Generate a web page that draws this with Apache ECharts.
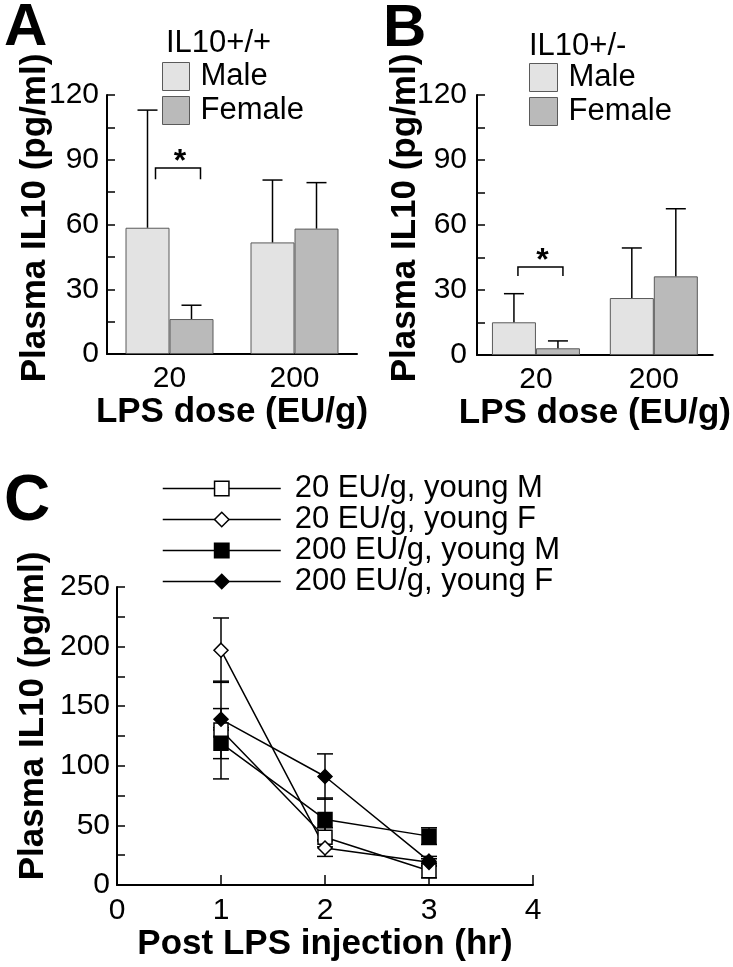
<!DOCTYPE html>
<html>
<head>
<meta charset="utf-8">
<script src="https://cdn.jsdelivr.net/npm/echarts@6/dist/echarts.min.js"></script>
<style>
  html, body { margin: 0; padding: 0; background: #fff; }
  #chart { width: 733px; height: 967px; }
</style>
</head>
<body>
<div id="chart"></div>
<script>
// panel A / B: LPS dose groups
var doses = ['20', '200'];
var wtMale = [58.5, 51.7];
var wtMaleErr = [54.5, 28.9];
var wtFemale = [16.2, 58.1];
var wtFemaleErr = [6.4, 21.3];
var hetMale = [15.1, 26.3];
var hetMaleErr = [13.2, 23.1];
var hetFemale = [3.1, 36.3];
var hetFemaleErr = [3.4, 31.2];

// panel C: time course
var hours = [1, 2, 3];
var m20 = [130, 40, 12];
var m20Err = [41, 8, 6];
var f20 = [197, 31, 19];
var f20Err = [27, 7, 3];
var m200 = [119, 55, 41];
var m200Err = [13, 18, 7];
var f200 = [139, 91, 20];
var f200Err = [9, 19, 4];

var FONT = '"Liberation Sans", Arial, sans-serif';
var maleColor = '#e3e3e3';
var femaleColor = '#bababa';
var barBorder = '#5a5a5a';

function upperErr(vals, errs) {
  return vals.map(function (v, i) { return [i, v, v + errs[i]]; });
}
function bothErr(vals, errs) {
  return vals.map(function (v, i) { return [hours[i], v - errs[i], v + errs[i]]; });
}

function barErrRender(offset) {
  return function (params, api) {
    var base = api.coord([api.value(0), api.value(1)]);
    var top = api.coord([api.value(0), api.value(2)]);
    var x = base[0] + offset;
    var st = { stroke: '#000', lineWidth: 1.5 };
    return {
      type: 'group',
      children: [
        { type: 'line', shape: { x1: x, y1: base[1], x2: x, y2: top[1] }, style: st },
        { type: 'line', shape: { x1: x - 10, y1: top[1], x2: x + 10, y2: top[1] }, style: st }
      ]
    };
  };
}

function lineErrRender(params, api) {
  var lo = api.coord([api.value(0), api.value(1)]);
  var hi = api.coord([api.value(0), api.value(2)]);
  var x = lo[0];
  var st = { stroke: '#000', lineWidth: 1.5 };
  return {
    type: 'group',
    children: [
      { type: 'line', shape: { x1: x, y1: lo[1], x2: x, y2: hi[1] }, style: st },
      { type: 'line', shape: { x1: x - 8, y1: hi[1], x2: x + 8, y2: hi[1] }, style: st },
      { type: 'line', shape: { x1: x - 8, y1: lo[1], x2: x + 8, y2: lo[1] }, style: st }
    ]
  };
}

function bracketRender(left, right) {
  return function (params, api) {
    var top = api.coord([api.value(0), api.value(2)]);
    var leg = api.coord([api.value(0), api.value(1)]);
    var x1 = top[0] + left, x2 = top[0] + right;
    return {
      type: 'group',
      children: [
        { type: 'polyline', shape: { points: [[x1, leg[1]], [x1, top[1]], [x2, top[1]], [x2, leg[1]]] },
          style: { stroke: '#000', lineWidth: 1.5, fill: null } },
        { type: 'text', x: (x1 + x2) / 2 + 2, y: top[1] - 6,
          style: { text: '*', font: 'bold 32px ' + FONT, fill: '#000', align: 'center', verticalAlign: 'middle' } }
      ]
    };
  };
}

function catAxis(grid) {
  return {
    type: 'category', gridIndex: grid, data: doses,
    axisLine: { lineStyle: { color: '#000', width: 2 } },
    axisTick: { show: false },
    axisLabel: { color: '#000', fontSize: 30, margin: 10, fontFamily: FONT },
    name: 'LPS dose (EU/g)', nameLocation: 'middle', nameGap: 40,
    nameTextStyle: { color: '#000', fontSize: 35, fontWeight: 'bold', fontFamily: FONT }
  };
}
function valAxis(grid, max, interval, margin) {
  return {
    type: 'value', gridIndex: grid, min: 0, max: max, interval: interval,
    splitLine: { show: false },
    axisLine: { show: true, lineStyle: { color: '#000', width: 2 } },
    axisTick: { show: true, inside: true, length: 8, lineStyle: { color: '#000', width: 1.5 } },
    minorTick: { show: true, splitNumber: 2, length: 8, lineStyle: { color: '#000', width: 1.5 } },
    axisLabel: { color: '#000', fontSize: 30, margin: margin, fontFamily: FONT }
  };
}

function barSeries(name, axis, vals, color) {
  return {
    name: name, type: 'bar', xAxisIndex: axis, yAxisIndex: axis, data: vals,
    barWidth: 44, barGap: '0%',
    itemStyle: { color: color, borderColor: barBorder, borderWidth: 1 }
  };
}
function errSeries(axis, data, offset) {
  return {
    type: 'custom', xAxisIndex: axis, yAxisIndex: axis, data: data,
    encode: { x: 0, y: [1, 2] }, renderItem: barErrRender(offset), z: 3
  };
}
function lineSeries(name, vals, symbol, fill) {
  return {
    name: name, type: 'line', xAxisIndex: 2, yAxisIndex: 2,
    data: vals.map(function (v, i) { return [hours[i], v]; }),
    symbol: symbol, symbolSize: 14,
    lineStyle: { color: '#000', width: 1.5 },
    itemStyle: { color: fill, borderColor: '#000', borderWidth: 1.5 },
    z: 4
  };
}

var chart = echarts.init(document.getElementById('chart'));
var option = {
  animation: false,
  backgroundColor: '#fff',
  textStyle: { fontFamily: FONT, color: '#000' },
  grid: [
    { left: 107, top: 95, width: 250, height: 259 },
    { left: 477, top: 95, width: 250, height: 260 },
    { left: 117, top: 587, width: 416, height: 298 }
  ],
  xAxis: [
    catAxis(0),
    catAxis(1),
    {
      type: 'value', gridIndex: 2, min: 0, max: 4, interval: 1,
      splitLine: { show: false },
      axisLine: { lineStyle: { color: '#000', width: 2 } },
      axisTick: { inside: true, length: 10, lineStyle: { color: '#000', width: 1.5 } },
      axisLabel: { color: '#000', fontSize: 30, margin: 11, fontFamily: FONT },
      name: 'Post LPS injection (hr)', nameLocation: 'middle', nameGap: 42,
      nameTextStyle: { color: '#000', fontSize: 35, fontWeight: 'bold', fontFamily: FONT }
    }
  ],
  yAxis: [
    valAxis(0, 120, 30, 8),
    valAxis(1, 120, 30, 10),
    valAxis(2, 250, 50, 7)
  ],
  legend: [
    {
      data: ['Male', 'Female'], orient: 'vertical', left: 162, top: 61, padding: 0,
      icon: 'rect', itemWidth: 27, itemHeight: 28, itemGap: 3, selectedMode: false,
      itemStyle: { borderColor: barBorder, borderWidth: 1 },
      textStyle: { fontSize: 31, color: '#000', padding: [0, 0, 0, 6], fontFamily: FONT }
    },
    {
      data: ['Male', 'Female'], orient: 'vertical', left: 529, top: 62, padding: 0,
      icon: 'rect', itemWidth: 28, itemHeight: 28, itemGap: 3, selectedMode: false,
      itemStyle: { borderColor: barBorder, borderWidth: 1 },
      textStyle: { fontSize: 31, color: '#000', padding: [0, 0, 0, 6], fontFamily: FONT }
    },
    {
      data: ['20 EU/g, young M', '20 EU/g, young F', '200 EU/g, young M', '200 EU/g, young F'],
      orient: 'vertical', left: 162, top: 473, padding: 0,
      itemWidth: 118, itemHeight: 18, itemGap: 0, selectedMode: false,
      itemStyle: { borderColor: '#000', borderWidth: 1.5 },
      lineStyle: { color: '#000', width: 1.5 },
      textStyle: { fontSize: 31, lineHeight: 31, color: '#000', padding: [0, 0, 0, 9], fontFamily: FONT }
    }
  ],
  graphic: [
    { type: 'text', x: 4, y: 28, style: { text: 'A', font: 'bold 60px ' + FONT, fill: '#000', verticalAlign: 'middle' } },
    { type: 'text', x: 383, y: 29, style: { text: 'B', font: 'bold 60px ' + FONT, fill: '#000', verticalAlign: 'middle' } },
    { type: 'text', x: 4, y: 502, style: { text: 'C', font: 'bold 64px ' + FONT, fill: '#000', verticalAlign: 'middle' } },
    { type: 'text', x: 166, y: 43, style: { text: 'IL10+/+', font: '31px ' + FONT, fill: '#000', verticalAlign: 'middle' } },
    { type: 'text', x: 529, y: 46, style: { text: 'IL10+/-', font: '31px ' + FONT, fill: '#000', verticalAlign: 'middle' } },
    { type: 'text', x: 35, y: 218, rotation: Math.PI / 2,
      style: { text: 'Plasma IL10 (pg/ml)', font: 'bold 35px ' + FONT, fill: '#000', align: 'center', verticalAlign: 'middle' } },
    { type: 'text', x: 405, y: 218, rotation: Math.PI / 2,
      style: { text: 'Plasma IL10 (pg/ml)', font: 'bold 35px ' + FONT, fill: '#000', align: 'center', verticalAlign: 'middle' } },
    { type: 'text', x: 33, y: 716, rotation: Math.PI / 2,
      style: { text: 'Plasma IL10 (pg/ml)', font: 'bold 35px ' + FONT, fill: '#000', align: 'center', verticalAlign: 'middle' } }
  ],
  series: [
    barSeries('Male', 0, wtMale, maleColor),
    barSeries('Female', 0, wtFemale, femaleColor),
    errSeries(0, upperErr(wtMale, wtMaleErr), -22),
    errSeries(0, upperErr(wtFemale, wtFemaleErr), 22),
    { type: 'custom', xAxisIndex: 0, yAxisIndex: 0, data: [[0, 81, 86.2]],
      encode: { x: 0, y: [1, 2] }, renderItem: bracketRender(-14, 31), z: 3 },

    barSeries('Male', 1, hetMale, maleColor),
    barSeries('Female', 1, hetFemale, femaleColor),
    errSeries(1, upperErr(hetMale, hetMaleErr), -22),
    errSeries(1, upperErr(hetFemale, hetFemaleErr), 22),
    { type: 'custom', xAxisIndex: 1, yAxisIndex: 1, data: [[0, 36.5, 40.6]],
      encode: { x: 0, y: [1, 2] }, renderItem: bracketRender(-18, 27), z: 3 },

    { type: 'custom', xAxisIndex: 2, yAxisIndex: 2, data: bothErr(m20, m20Err), encode: { x: 0, y: [1, 2] }, renderItem: lineErrRender, z: 2 },
    { type: 'custom', xAxisIndex: 2, yAxisIndex: 2, data: bothErr(f20, f20Err), encode: { x: 0, y: [1, 2] }, renderItem: lineErrRender, z: 2 },
    { type: 'custom', xAxisIndex: 2, yAxisIndex: 2, data: bothErr(m200, m200Err), encode: { x: 0, y: [1, 2] }, renderItem: lineErrRender, z: 2 },
    { type: 'custom', xAxisIndex: 2, yAxisIndex: 2, data: bothErr(f200, f200Err), encode: { x: 0, y: [1, 2] }, renderItem: lineErrRender, z: 2 },
    lineSeries('20 EU/g, young M', m20, 'rect', '#fff'),
    lineSeries('20 EU/g, young F', f20, 'diamond', '#fff'),
    lineSeries('200 EU/g, young M', m200, 'rect', '#000'),
    lineSeries('200 EU/g, young F', f200, 'diamond', '#000')
  ]
};
chart.setOption(option);
</script>
</body>
</html>
